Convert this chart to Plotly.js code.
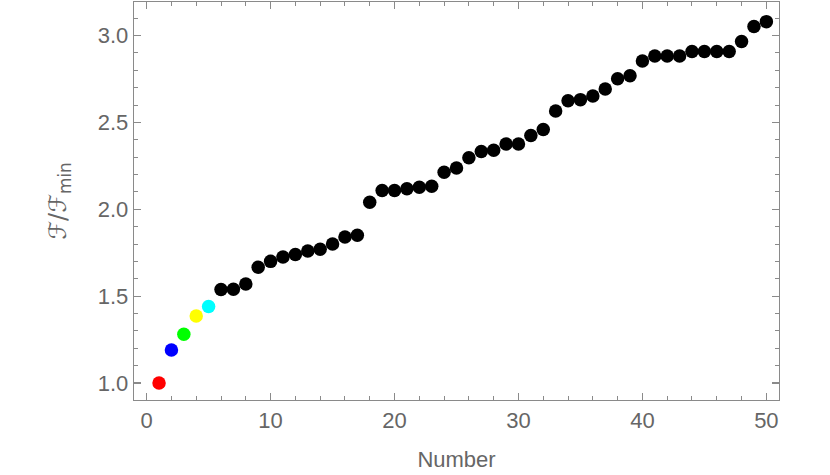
<!DOCTYPE html>
<html>
<head>
<meta charset="utf-8">
<script src="https://cdn.plot.ly/plotly-3.0.1.min.js"></script>
<style>
  html, body { margin: 0; padding: 0; background: #fff; }
  #ratioChart { width: 830px; height: 475px; }
</style>
</head>
<body>
<div id="ratioChart"></div>

<script>
    // ratio F/F_min for each configuration number
    var numbers = [];
    for (var i = 1; i <= 50; i++) numbers.push(i);

    var ratios = [
        1.00, 1.19, 1.28, 1.386, 1.44, 1.538, 1.54, 1.57, 1.666, 1.70,
        1.725, 1.74, 1.76, 1.77, 1.80, 1.84, 1.85, 2.04, 2.108, 2.108,
        2.118, 2.127, 2.133, 2.213, 2.238, 2.296, 2.332, 2.34, 2.376, 2.376,
        2.424, 2.459, 2.566, 2.625, 2.631, 2.652, 2.692, 2.751, 2.768, 2.853,
        2.882, 2.882, 2.882, 2.908, 2.908, 2.908, 2.908, 2.966, 3.052, 3.08
    ];

    // first five points are highlighted
    var highlightColors = ['#ff0000', '#0000ff', '#00ff00', '#ffff00', '#00ffff'];
    var pointColors = ratios.map((v, i) => highlightColors[i] || '#000000');

    var textColor = '#666666';
    var frameColor = '#8a8a8a';

    function makeChart() {
        var trace = {
            x: numbers,
            y: ratios,
            type: 'scatter',
            mode: 'markers',
            marker: { size: 13.5, color: pointColors },
            hoverinfo: 'x+y'
        };

        var axisCommon = {
            showgrid: false,
            zeroline: false,
            showline: true,
            linecolor: frameColor,
            linewidth: 1.3,
            mirror: 'allticks',
            ticks: 'inside',
            tickcolor: frameColor,
            tickwidth: 1.2,
            tickfont: { family: 'Liberation Sans, Arial, sans-serif', size: 22, color: textColor }
        };

        var layout = {
            width: 830,
            height: 475,
            margin: { t: 2, r: 51, b: 75, l: 134 },
            showlegend: false,
            paper_bgcolor: '#ffffff',
            plot_bgcolor: '#ffffff',
            xaxis: Object.assign({}, axisCommon, {
                range: [-1.02, 51.02],
                tickmode: 'linear',
                tick0: 0,
                dtick: 10,
                ticklen: 7,
                minor: { dtick: 2, ticklen: 4, ticks: 'inside', tickcolor: frameColor, tickwidth: 1 },
                title: {
                    text: 'Number',
                    font: { family: 'Liberation Sans, Arial, sans-serif', size: 22, color: textColor },
                    standoff: 20
                }
            }),
            yaxis: Object.assign({}, axisCommon, {
                range: [0.902, 3.193],
                tickmode: 'linear',
                tick0: 1,
                dtick: 0.5,
                tickformat: '.1f',
                ticklen: 7,
                minor: { dtick: 0.1, ticklen: 4, ticks: 'inside', tickcolor: frameColor, tickwidth: 1 },
                title: {
                    text: 'ℱ/ℱ<sub>min</sub>',
                    font: { family: 'DejaVu Sans, Liberation Sans, sans-serif', size: 24, color: textColor },
                    standoff: 24
                }
            })
        };

        Plotly.newPlot('ratioChart', [trace], layout, { displayModeBar: false, staticPlot: true });
    }

    makeChart();
</script>
</body>
</html>
